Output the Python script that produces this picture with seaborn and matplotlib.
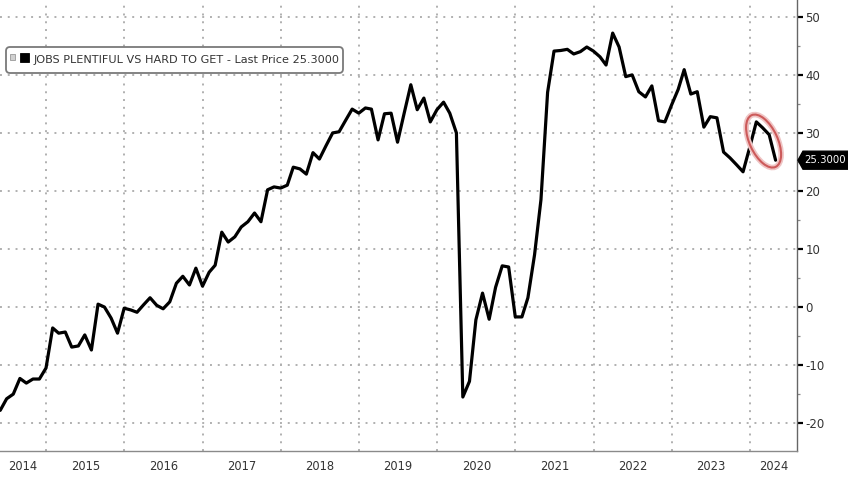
import numpy as np
import pandas as pd
import matplotlib
matplotlib.use('Agg')
import matplotlib.pyplot as plt
import matplotlib.dates as mdates
import matplotlib.ticker as mticker
from matplotlib.patches import Ellipse, FancyBboxPatch, Rectangle, Polygon
from matplotlib.transforms import ScaledTranslation, blended_transform_factory
import seaborn as sns

# ---- data (monthly, month-end) ----
v2014 = [-17.8, -15.8, -15.0, -12.3, -13.1, -12.4, -12.4, -10.5]          # May-Dec
v2015 = [-3.6, -4.5, -4.3, -6.9, -6.7, -4.8, -7.4, 0.5, 0.0, -1.9, -4.5, -0.2]
v2016 = [-0.5, -0.9, 0.4, 1.6, 0.3, -0.3, 0.9, 4.1, 5.3, 3.8, 6.7, 3.6]
v2017 = [6.0, 7.2, 12.9, 11.2, 12.1, 13.8, 14.7, 16.2, 14.7, 20.2, 20.7, 20.5]
v2018 = [21.0, 24.1, 23.8, 22.9, 26.6, 25.5, 27.8, 30.0, 30.2, 32.2, 34.1, 33.4]
v2019 = [34.3, 34.1, 28.8, 33.3, 33.4, 28.4, 33.4, 38.3, 34.0, 36.0, 31.9, 34.0]
v2020 = [35.3, 33.4, 30.0, -15.5, -12.8, -2.2, 2.4, -2.1, 3.4, 7.1, 6.9, -1.7]
v2021 = [-1.7, 1.6, 9.0, 18.5, 37.0, 44.1, 44.2, 44.4, 43.6, 44.0, 44.8, 44.1]
v2022 = [43.1, 41.7, 47.2, 44.8, 39.7, 40.0, 37.1, 36.2, 38.1, 32.1, 31.9, 34.8]
v2023 = [37.5, 40.9, 36.7, 37.1, 31.0, 32.8, 32.6, 26.7, 25.7, 24.5, 23.3, 27.5]
v2024 = [31.9, 30.9, 29.7, 25.3]                                              # Jan-Apr

values = v2014 + v2015 + v2016 + v2017 + v2018 + v2019 + v2020 + v2021 + v2022 + v2023 + v2024
dates = pd.date_range('2014-05-31', periods=len(values), freq='ME')
df = pd.DataFrame({'date': dates, 'value': values})

years = list(range(2014, 2025))
y_ticks = [-20, -10, 0, 10, 20, 30, 40, 50]
legend_text = 'JOBS PLENTIFUL VS HARD TO GET - Last Price 25.3000'
last_label = '25.3000'
last_value = 25.3

# ---- style ----
sns.set_style('white')
plt.rcParams['font.family'] = ['DejaVu Sans']

W, H = 848, 479
fig = plt.figure(figsize=(W / 100, H / 100), dpi=100)
ax = fig.add_axes([0, 28 / H, 797 / W, 451 / H])

sns.lineplot(data=df, x='date', y='value', ax=ax, color='black', linewidth=2.3, zorder=5)
ax.set_xlabel('')
ax.set_ylabel('')

x0 = pd.Timestamp('2014-05-30')
x1 = pd.Timestamp('2024-08-08')
ax.set_xlim(x0, x1)
ax.set_ylim(-24.8, 52.9)

# grid
grid_kw = dict(color='#b0b0b0', linestyle=(0, (1, 3)), linewidth=1.4)
ax.xaxis.set_major_locator(mdates.YearLocator())
ax.xaxis.set_major_formatter(mticker.NullFormatter())
ax.xaxis.set_minor_locator(mdates.MonthLocator(bymonth=[4, 7, 10]))
ax.yaxis.set_major_locator(mticker.FixedLocator(y_ticks))
ax.yaxis.set_minor_locator(mticker.MultipleLocator(5))
ax.grid(True, which='major', **grid_kw)

# spines
for s in ['top', 'left']:
    ax.spines[s].set_visible(False)
ax.spines['right'].set_color('#666666')
ax.spines['right'].set_linewidth(1.0)
ax.spines['bottom'].set_color('#8a8a8a')
ax.spines['bottom'].set_linewidth(1.0)

# x ticks
ax.tick_params(axis='x', which='major', length=21, width=0.9, color='#9a9a9a', direction='out')
ax.tick_params(axis='x', which='minor', length=3, width=0.9, color='#777777', direction='out')

# y ticks on right
ax.yaxis.tick_right()
ax.tick_params(axis='y', which='major', length=4.5, width=1.6, color='black', direction='out',
               labelsize=8.5, labelcolor='#333333', pad=1.5)
ax.tick_params(axis='y', which='minor', length=2.5, width=0.9, color='#888888', direction='out')
ax.set_yticklabels([str(t) if t >= 0 else '-' + str(abs(t)) for t in y_ticks])

# year labels centered in the visible part of each year
trans = blended_transform_factory(ax.transData, ax.transAxes)
for y in years:
    s = max(pd.Timestamp(f'{y}-01-01'), x0)
    e = min(pd.Timestamp(f'{y + 1}-01-01'), x1)
    mid = s + (e - s) / 2
    ax.text(mid, -15 / 451, str(y), transform=trans, ha='center', va='center',
            fontsize=8.3, color='#333333', clip_on=False)

# legend box
fig.add_artist(FancyBboxPatch((0.06, (H - 73) / 100), 3.37, 0.26,
                              boxstyle='round,pad=0,rounding_size=0.04',
                              transform=fig.dpi_scale_trans, fc='white', ec='#7a7a7a', lw=1.3, zorder=10))
fig.add_artist(Rectangle((0.10, (H - 60) / 100), 0.05, 0.06, transform=fig.dpi_scale_trans,
                         fc='#d0d0d0', ec='#999999', lw=0.6, zorder=11))
fig.add_artist(Rectangle((0.20, (H - 62) / 100), 0.09, 0.09, transform=fig.dpi_scale_trans,
                         fc='black', ec='black', lw=0.6, zorder=11))
fig.text(34 / W, 1 - 60 / H, legend_text, ha='left', va='center', fontsize=8.1, color='#333333', zorder=12)

# last price tag (pointed black box right of the axis)
tag_anchor = ScaledTranslation(1, last_value, blended_transform_factory(ax.transAxes, ax.transData))
tag_trans = fig.dpi_scale_trans + tag_anchor
tag = Polygon([(0.01, 0), (0.06, 0.09), (0.60, 0.09), (0.60, -0.09), (0.06, -0.09)],
              closed=True, transform=tag_trans, fc='black', ec='black', zorder=20, clip_on=False)
ax.add_patch(tag)
ax.text(0.075, 0, last_label, transform=tag_trans, ha='left', va='center',
        fontsize=7.3, color='white', zorder=21, clip_on=False)

# red highlight ellipse
cx = mdates.date2num(pd.Timestamp('2024-03-05'))
cy = 28.6
etrans = fig.dpi_scale_trans + ScaledTranslation(cx, cy, ax.transData)
ax.add_patch(Ellipse((0, 0), width=0.28, height=0.57, angle=25, transform=etrans,
                     fill=False, ec='#efc4c4', lw=4, zorder=6, clip_on=False))
ax.add_patch(Ellipse((0, 0), width=0.28, height=0.57, angle=25, transform=etrans,
                     fill=False, ec='#cc5a5a', lw=1.5, zorder=7, clip_on=False))

fig.savefig('out.png', dpi=100)
